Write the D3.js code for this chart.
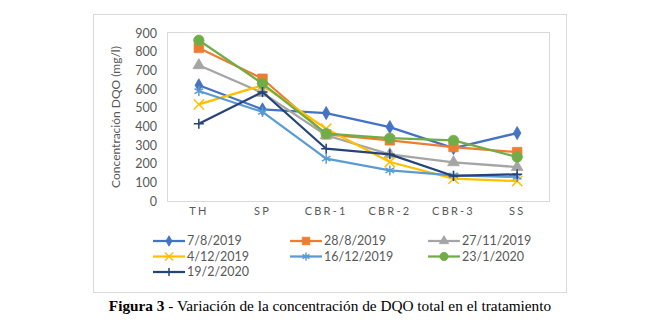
<!DOCTYPE html>
<html>
<head>
<meta charset="utf-8">
<script src="https://cdn.jsdelivr.net/npm/d3@7"></script>
<style>
  body { margin: 0; background: #fff; }
  svg text { font-family: Lato, "Open Sans", sans-serif; }
</style>
</head>
<body>
<div id="chart"></div>
<script>
// data
var stages = ["TH", "SP", "CBR-1", "CBR-2", "CBR-3", "SS"];
var yTicks = [0, 100, 200, 300, 400, 500, 600, 700, 800, 900];
var seriesNames = ["7/8/2019", "28/8/2019", "27/11/2019", "4/12/2019", "16/12/2019", "23/1/2020", "19/2/2020"];
var s1 = [620, 491, 471, 396, 283, 364];
var s2 = [820, 655, 357, 325, 289, 262];
var s3 = [727, 579, 352, 250, 207, 182];
var s4 = [518, 620, 387, 209, 120, 107];
var s5 = [589, 477, 227, 164, 137, 129];
var s6 = [861, 629, 361, 337, 325, 236];
var s7 = [414, 584, 280, 250, 134, 143];

var colors = ["#4472C4", "#ED7D31", "#A5A5A5", "#FFC000", "#5B9BD5", "#70AD47", "#264478"];
var markers = ["diamond", "square", "triangle", "x", "asterisk", "circle", "plus"];
var series = [s1, s2, s3, s4, s5, s6, s7].map(function (v, i) {
    return { name: seriesNames[i], values: v, color: colors[i], marker: markers[i] };
});

var W = 655, H = 321;
var svg = d3.select("#chart").append("svg")
    .attr("width", W).attr("height", H);

// outer chart border
svg.append("rect")
    .attr("x", 93.5).attr("y", 14.5)
    .attr("width", 473).attr("height", 278)
    .attr("fill", "none").attr("stroke", "#D9D9D9");

var plot = { left: 167, top: 33, right: 549, bottom: 201 };

var x = d3.scaleBand()
    .domain(stages)
    .range([plot.left, plot.right]);

var y = d3.scaleLinear()
    .domain([0, 900])
    .range([plot.bottom, plot.top]);

// plot area border
svg.append("rect")
    .attr("x", plot.left + 0.5).attr("y", plot.top - 0.5)
    .attr("width", plot.right - plot.left).attr("height", plot.bottom - plot.top + 1)
    .attr("fill", "none").attr("stroke", "#D9D9D9");

// y axis
var yAxis = svg.append("g")
    .attr("transform", "translate(" + (plot.left - 10) + ",0)")
    .call(d3.axisLeft(y).tickValues(yTicks).tickSize(0).tickPadding(0));
yAxis.select(".domain").remove();
yAxis.selectAll("text")
    .attr("fill", "#595959")
    .style("font-size", "12.5px");

// x axis
var xAxis = svg.append("g")
    .attr("transform", "translate(0," + (plot.bottom + 6) + ")")
    .call(d3.axisBottom(x).tickSize(0).tickPadding(0));
xAxis.select(".domain").remove();
xAxis.selectAll("text")
    .attr("fill", "#595959")
    .attr("dy", "0.71em")
    .style("font-size", "11px")
    .style("letter-spacing", "2.2px");

// y axis title
svg.append("text")
    .attr("transform", "translate(120," + ((plot.top + plot.bottom) / 2) + ") rotate(-90)")
    .attr("text-anchor", "middle")
    .attr("fill", "#595959")
    .style("font-size", "12px")
    .text("Concentración DQO (mg/l)");

function markerPath(type, size) {
    var s = size;
    var h = s / 2;
    switch (type) {
        case "diamond": return d3.symbol(d3.symbolDiamond, s * s * 0.5)();
        case "square": return d3.symbol(d3.symbolSquare, s * s * 0.9)();
        case "triangle": return d3.symbol(d3.symbolTriangle, s * s * 0.6)();
        case "circle": return d3.symbol(d3.symbolCircle, s * s * 0.85)();
        case "x": return d3.symbol(d3.symbolTimes, s * s * 0.7)();
        case "asterisk": return d3.symbol(d3.symbolAsterisk, s * s * 0.7)();
        case "plus": return "M" + (-h) + ",0H" + h + "M0," + (-h) + "V" + h;
    }
}
function markerStyle(sel, d) {
    var open = d.marker === "x" || d.marker === "asterisk" || d.marker === "plus";
    sel.attr("fill", open ? "none" : d.color)
        .attr("stroke", d.color)
        .attr("stroke-width", open ? 1.5 : 0.75);
}

var line = d3.line()
    .x(function (d, i) { return x(stages[i]) + x.bandwidth() / 2; })
    .y(function (d) { return y(d); });

var groups = svg.selectAll("g.series")
    .data(series)
    .enter()
    .append("g").attr("class", "series");

groups.append("path")
    .attr("d", function (d) { return line(d.values); })
    .attr("fill", "none")
    .attr("stroke", function (d) { return d.color; })
    .attr("stroke-width", 2.25)
    .attr("stroke-linejoin", "round");

groups.each(function (d) {
    d3.select(this).selectAll("path.mark")
        .data(d.values)
        .enter()
        .append("path").attr("class", "mark")
        .attr("d", markerPath(d.marker, 10))
        .attr("transform", function (v, i) {
            return "translate(" + (x(stages[i]) + x.bandwidth() / 2) + "," + y(v) + ")";
        })
        .call(markerStyle, d);
});

// legend
var legCols = [153, 290, 428];
var legRows = [241, 256.5, 272];
var legend = svg.selectAll("g.legend")
    .data(series)
    .enter()
    .append("g").attr("class", "legend")
    .attr("transform", function (d, i) {
        return "translate(" + legCols[i % 3] + "," + legRows[Math.floor(i / 3)] + ")";
    });
legend.append("line")
    .attr("x1", 0).attr("x2", 32)
    .attr("stroke", function (d) { return d.color; })
    .attr("stroke-width", 2.25);
legend.append("path")
    .attr("transform", "translate(16,0)")
    .attr("d", function (d) { return markerPath(d.marker, 8); })
    .each(function (d) { d3.select(this).call(markerStyle, d); });
legend.append("text")
    .attr("x", 34).attr("dy", "0.35em")
    .attr("fill", "#595959")
    .style("font-size", "12.5px")
    .text(function (d) { return d.name; });

// caption
var cap = svg.append("text")
    .attr("x", 330).attr("y", 311)
    .attr("text-anchor", "middle")
    .style("font-family", "'Liberation Serif', 'Times New Roman', serif")
    .style("font-size", "15.3px")
    .attr("fill", "#000");
cap.append("tspan").style("font-weight", "bold").text("Figura 3");
cap.append("tspan").text(" - Variación de la concentración de DQO total en el tratamiento");
</script>
</body>
</html>
